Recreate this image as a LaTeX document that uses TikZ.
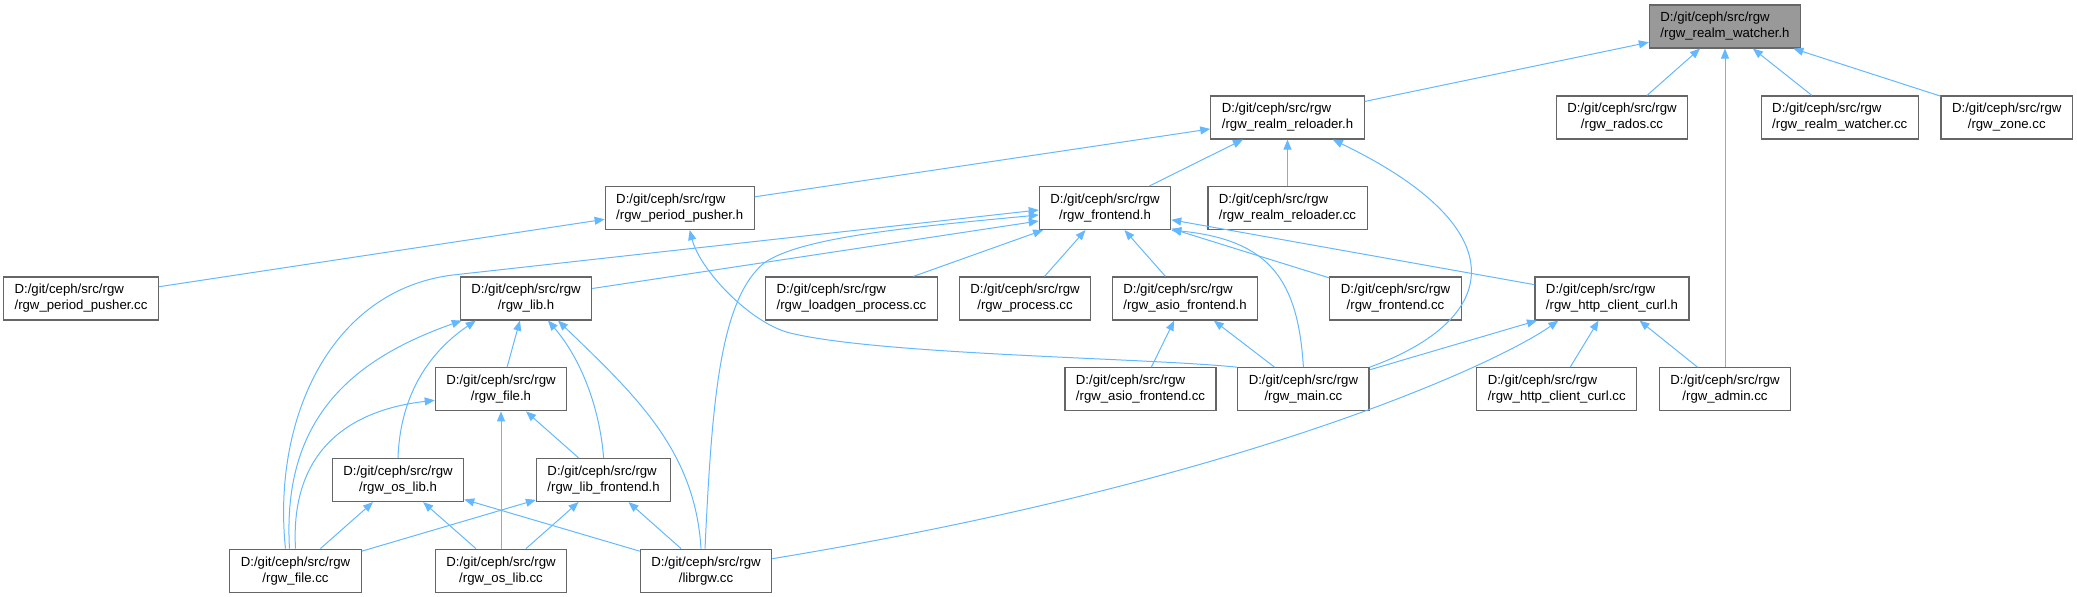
\documentclass[tikz,border=0pt]{standalone}
\usepackage{fontspec}
\setmainfont{Liberation Sans}
\usetikzlibrary{arrows.meta,calc}
\definecolor{edgeblue}{HTML}{63B8FF}
\definecolor{boxline}{HTML}{666666}
\definecolor{rootfill}{HTML}{999999}
\newsavebox\dirbox
\newsavebox\namebox
\newcommand\rgwlabel[1]{%
  \sbox\dirbox{D:/git/ceph/src/rgw}\sbox\namebox{#1}%
  \ifdim\wd\dirbox<\wd\namebox
    \makebox[\wd\namebox][l]{\usebox\dirbox}%
  \else
    \usebox\dirbox
  \fi
  \\#1}
\begin{document}
\begin{tikzpicture}[
  x=0.5pt, y=-0.5pt,
  box/.style={
    draw=boxline,
    line width=0.6pt,
    fill=white,
    align=center,
    font=\fontsize{6.6}{8}\selectfont,
    minimum height=21.5pt,
    inner xsep=5.5pt,
    inner ysep=1pt
  },
  root/.style={box, fill=rootfill},
  edge/.style={
    draw=edgeblue,
    line width=0.5pt,
    -{Triangle[length=5pt,width=4pt]}
  }
]
\useasboundingbox (0,0) rectangle (2077,597);

\node[root] (watcher) at (1725,26.5) {\rgwlabel{/rgw\_realm\_watcher.h}};
\node[box] (reloader) at (1287.5,117.5) {\rgwlabel{/rgw\_realm\_reloader.h}};
\node[box] (rados) at (1622,117.5) {\rgwlabel{/rgw\_rados.cc}};
\node[box] (watchercc) at (1839.7,117.5) {\rgwlabel{/rgw\_realm\_watcher.cc}};
\node[box] (zone) at (2006.7,117.5) {\rgwlabel{/rgw\_zone.cc}};
\node[box] (pusher) at (679.7,208) {\rgwlabel{/rgw\_period\_pusher.h}};
\node[box] (frontend) at (1105,208) {\rgwlabel{/rgw\_frontend.h}};
\node[box] (reloadercc) at (1287.5,208) {\rgwlabel{/rgw\_realm\_reloader.cc}};
\node[box] (pushercc) at (81,298.5) {\rgwlabel{/rgw\_period\_pusher.cc}};
\node[box] (lib) at (526,298.5) {\rgwlabel{/rgw\_lib.h}};
\node[box] (loadgen) at (851.5,298.5) {\rgwlabel{/rgw\_loadgen\_process.cc}};
\node[box] (process) at (1025,298.5) {\rgwlabel{/rgw\_process.cc}};
\node[box] (asiofe) at (1185,298.5) {\rgwlabel{/rgw\_asio\_frontend.h}};
\node[box] (frontendcc) at (1395.5,298.5) {\rgwlabel{/rgw\_frontend.cc}};
\node[box] (curl) at (1612,298.5) {\rgwlabel{/rgw\_http\_client\_curl.h}};
\node[box] (file) at (501,389.3) {\rgwlabel{/rgw\_file.h}};
\node[box] (asiofecc) at (1140.5,389.3) {\rgwlabel{/rgw\_asio\_frontend.cc}};
\node[box] (main) at (1303.4,389.3) {\rgwlabel{/rgw\_main.cc}};
\node[box] (curlcc) at (1556.7,389.3) {\rgwlabel{/rgw\_http\_client\_curl.cc}};
\node[box] (admin) at (1725,389.3) {\rgwlabel{/rgw\_admin.cc}};
\node[box] (oslib) at (398,480) {\rgwlabel{/rgw\_os\_lib.h}};
\node[box] (libfe) at (603.6,480) {\rgwlabel{/rgw\_lib\_frontend.h}};
\node[box] (filecc) at (295.5,570.7) {\rgwlabel{/rgw\_file.cc}};
\node[box] (oslibcc) at (501,570.7) {\rgwlabel{/rgw\_os\_lib.cc}};
\node[box] (librgw) at (706,570.7) {\rgwlabel{/librgw.cc}};

\draw[edge] (reloader) -- (watcher);
\draw[edge] (rados) -- (watcher);
\draw[edge] (admin) -- (watcher);
\draw[edge] (watchercc) -- (watcher);
\draw[edge] (zone) -- (watcher);
\draw[edge] (pusher) -- (reloader);
\draw[edge] (frontend) -- (reloader);
\draw[edge] (reloadercc) -- (reloader);
\draw[edge] (main.north east) .. controls (1500,320) and (1520,230) .. ($(reloader.south east)+(-32,0)$);
\draw[edge] (pushercc) -- (pusher);
\draw[edge] (main.north west) .. controls (1150,358) and (880,355) .. (790,333) .. controls (750,323) and (700,270) .. ($(pusher.south)+(10,0)$);
\draw[edge] (lib) -- ($(frontend.west)+(0,13)$);
\draw[edge] ($(filecc.north)+(-10,0)$) .. controls (272,420) and (330,290) .. (453,275) -- ($(frontend.west)+(0,2)$);
\draw[edge] ($(librgw.north)+(-1,0)$) .. controls (712,400) and (720,300) .. (764,263) .. controls (800,238) and (900,228) .. ($(frontend.west)+(0,7)$);
\draw[edge] (loadgen) -- (frontend);
\draw[edge] (process) -- (frontend);
\draw[edge] (asiofe) -- (frontend);
\draw[edge] (main.north) .. controls (1298,280) and (1270,240) .. (frontend.south east);
\draw[edge] (frontendcc) -- (frontend);
\draw[edge] (curl) -- (frontend);
\draw[edge] ($(filecc.north)+(-6,0)$) .. controls (282,420) and (350,360) .. ($(lib.south west)+(2,0)$);
\draw[edge] (oslib.north) .. controls (400,400) and (425,355) .. ($(lib.south west)+(16,0)$);
\draw[edge] (file) -- (lib);
\draw[edge] (libfe.north) .. controls (600,410) and (582,360) .. ($(lib.south)+(22,0)$);
\draw[edge] ($(librgw.north)+(-5,0)$) .. controls (695,450) and (635,395) .. ($(lib.south)+(32,0)$);
\draw[edge] (filecc.north) .. controls (290,450) and (350,410) .. ($(file.west)+(0,11)$);
\draw[edge] (oslibcc) -- (file);
\draw[edge] (libfe) -- (file);
\draw[edge] (filecc) -- (oslib);
\draw[edge] (oslibcc) -- (oslib);
\draw[edge] (librgw) -- (oslib);
\draw[edge] (filecc) -- (libfe);
\draw[edge] (oslibcc) -- (libfe);
\draw[edge] (librgw) -- (libfe);
\draw[edge] (asiofecc) -- (asiofe);
\draw[edge] (main) -- (asiofe);
\draw[edge] (main) -- (curl);
\draw[edge] ($(librgw.east)+(0,-12)$) .. controls (1250,480) and (1500,362) .. ($(curl.south west)+(24,0)$);
\draw[edge] (curlcc) -- (curl);
\draw[edge] (admin) -- (curl);
\end{tikzpicture}
\end{document}
